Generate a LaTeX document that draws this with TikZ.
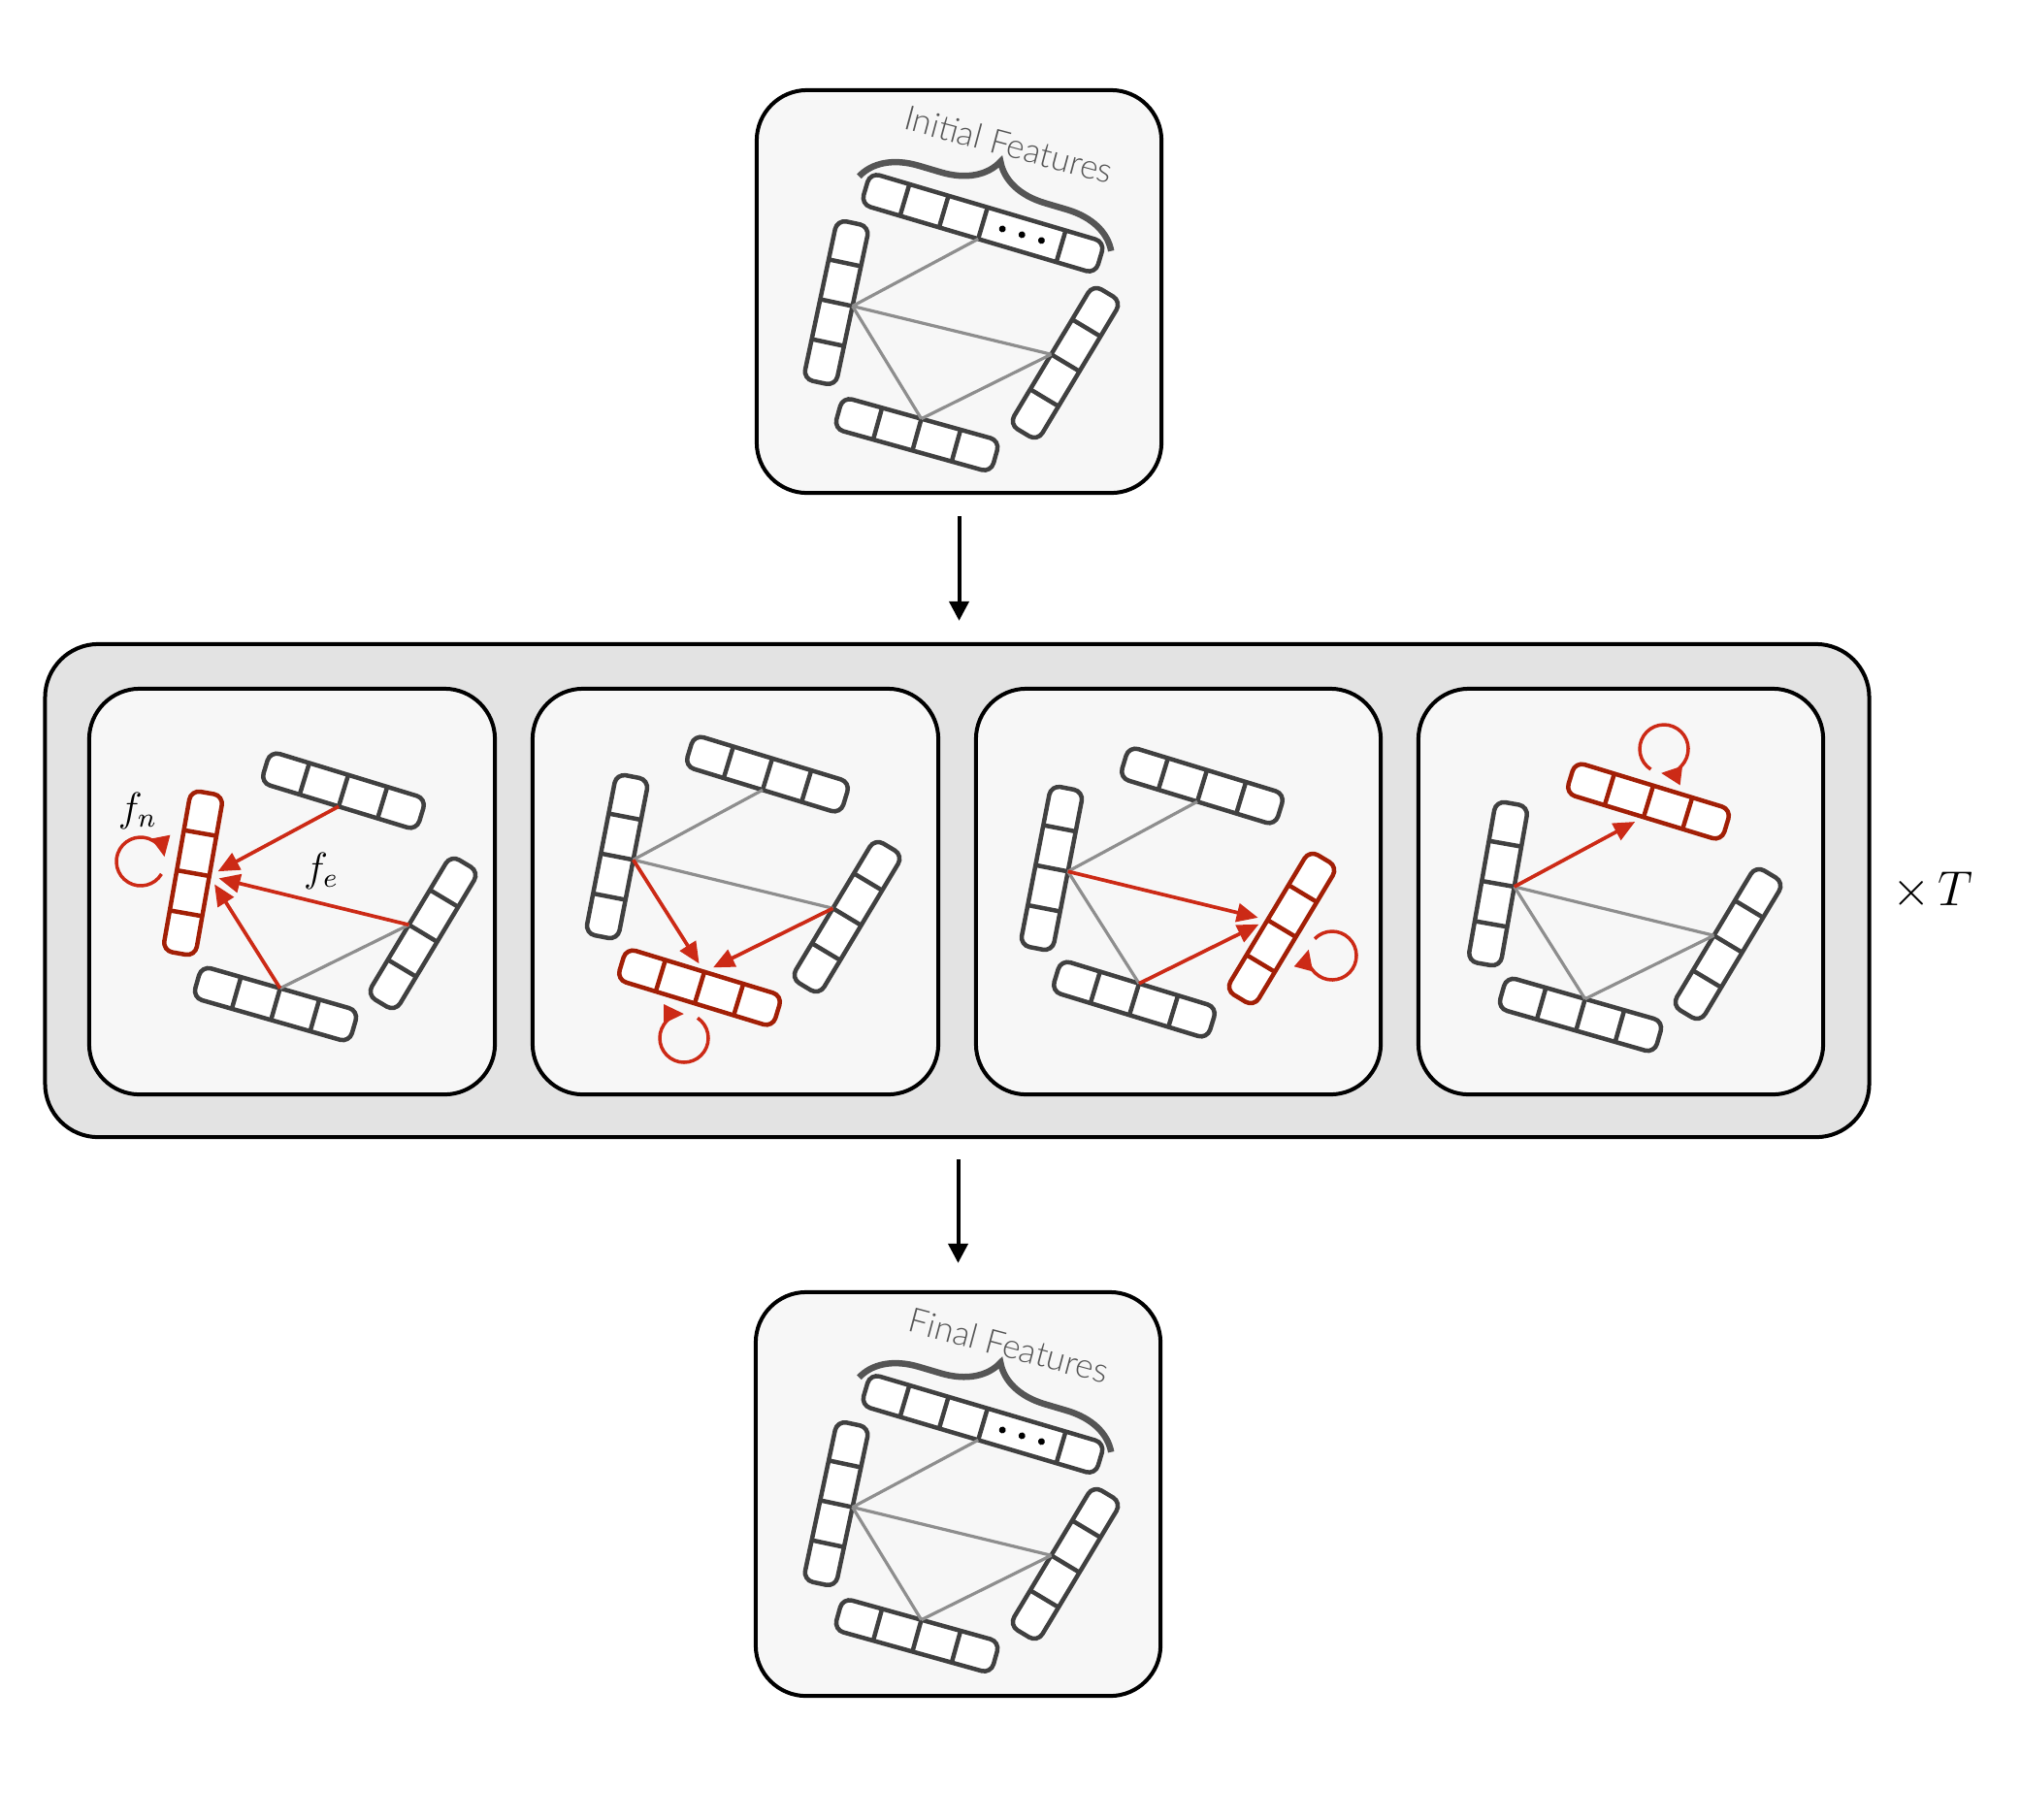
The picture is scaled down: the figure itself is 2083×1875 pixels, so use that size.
\documentclass[tikz,border=0pt]{standalone}
\usepackage{fontspec}
\newfontfamily\labelfont{Lato}[UprightFont={* Light}]
\usetikzlibrary{arrows.meta,decorations.pathreplacing}
\definecolor{barc}{HTML}{404040}
\definecolor{edgec}{HTML}{8E8E8E}
\definecolor{redA}{HTML}{CC2A16}
\definecolor{redB}{HTML}{A21F06}
\definecolor{boxfill}{HTML}{F7F7F7}
\definecolor{bigfill}{HTML}{E3E3E3}
\definecolor{txtc}{HTML}{555555}
\tikzset{
  pics/featbar/.style={code={
    \draw[line width=0.045cm, draw=#1, fill=white, rounded corners=0.1cm] (-84,-17) rectangle (84,17);
    \foreach \uu in {-42,0,42} {\draw[line width=0.045cm, draw=#1] (\uu,-17) -- (\uu,17);}
    \coordinate (-a) at (0,-17);
    \coordinate (-b) at (0,17);
  }},
  pics/longbar/.style={code={
    \draw[line width=0.045cm, draw=#1, fill=white, rounded corners=0.1cm] (-126,-17) rectangle (126,17);
    \foreach \uu in {-84,-42,0,84} {\draw[line width=0.045cm, draw=#1] (\uu,-17) -- (\uu,17);}
    \foreach \uu in {21,42,63} {\fill[black] (\uu,0) circle[radius=0.035cm];}
    \coordinate (-a) at (0,-17);
    \coordinate (-b) at (0,17);
    \draw[line width=0.065cm, draw=txtc, decorate, decoration={brace, amplitude=0.56cm}] (-136,-10) -- (135,-10);
  }},
  panelbox/.style={draw=black, line width=0.04cm, fill=boxfill, rounded corners=0.52cm, inner sep=0pt, outer sep=0pt},
  gedge/.style={draw=edgec, line width=0.032cm},
  redarrow/.style={draw=redA, line width=0.037cm, -{Triangle[length=0.22cm,width=0.19cm]}, shorten >=0.1cm},
  loopc/.style={draw=redA, line width=0.035cm, -{Triangle[length=0.21cm,width=0.19cm]}},
  flowarrow/.style={draw=black, line width=0.04cm, -{Triangle[length=0.2cm,width=0.2cm]}},
  mathlbl/.style={inner sep=0pt, font=\fontsize{11.5}{14}\selectfont},
  featlbl/.style={inner sep=0pt, font=\labelfont\fontsize{10}{12}\selectfont, text=txtc},
}
\newcommand\featgraph[3]{%
  \pic[rotate=-16.5] (#1T) at (1013,{230+#2}) {longbar=barc};
  \pic[rotate=78] (#1L) at (862,{312+#2}) {featbar=barc};
  \pic[rotate=59] (#1R) at (1098,{374+#2}) {featbar=barc};
  \pic[rotate=-15.6] (#1B) at (945,{448+#2}) {featbar=barc};
  \draw[gedge] (#1T-b) -- (#1L-b);
  \draw[gedge] (#1L-b) -- (#1R-a);
  \draw[gedge] (#1L-b) -- (#1B-a);
  \draw[gedge] (#1B-a) -- (#1R-a);
  \node[featlbl, rotate=-15] (#1lbl) at (1040,{149+#2}) {#3};
}
\begin{document}
\begin{tikzpicture}[x=0.01cm, y=-0.01cm]
\useasboundingbox (0,0) rectangle (2083,1875);
% boxes
\node[panelbox, minimum width=4.17cm, minimum height=4.15cm] (topbox) at (988.5,300.5) {};
\node[panelbox, fill=bigfill, rounded corners=0.55cm, minimum width=18.79cm, minimum height=5.08cm] (bigbox) at (986.5,918) {};
\node[panelbox, minimum width=4.18cm, minimum height=4.18cm] (panA) at (301,919) {};
\node[panelbox, minimum width=4.18cm, minimum height=4.18cm] (panB) at (758,919) {};
\node[panelbox, minimum width=4.17cm, minimum height=4.18cm] (panC) at (1214.5,919) {};
\node[panelbox, minimum width=4.17cm, minimum height=4.18cm] (panD) at (1670.5,919) {};
\node[panelbox, minimum width=4.17cm, minimum height=4.16cm] (botbox) at (987.5,1540) {};
% flow arrows
\draw[flowarrow, shorten <=0.24cm, shorten >=0.24cm] (topbox.south) -- (topbox.south |- bigbox.north);
\draw[flowarrow, shorten <=0.23cm, shorten >=0.30cm] (bigbox.south -| botbox.north) -- (botbox.north);
\node[inner sep=0pt, font=\fontsize{15.4}{18}\selectfont] (times) at (1992,918) {$\times\,T$};
% top and bottom graphs
\featgraph{gi}{0}{Initial Features}
\featgraph{gf}{1238}{Final Features}
% panel 1
\pic[rotate=80] (pAL) at (199,900) {featbar=redB};
\pic[rotate=-17] (pAT) at (354,815) {featbar=barc};
\pic[rotate=59] (pAR) at (436,962) {featbar=barc};
\pic[rotate=-16] (pAB) at (284,1035) {featbar=barc};
\draw[gedge] (pAB-a) -- (pAR-a);
\draw[redarrow] (pAT-b) -- (pAL-b);
\draw[redarrow] (pAR-a) -- (pAL-b);
\draw[redarrow] (pAB-a) -- (pAL-b);
\coordinate (pAloop) at (145,888);
\draw[loopc] (pAloop) ++(31:25) arc[start angle=31, end angle=349, radius=25];
\node[mathlbl] (fn) at (142,836) {$f_n$};
\node[mathlbl] (fe) at (331,898) {$f_e$};
% panel 2
\pic[rotate=79] (pBL) at (636,883) {featbar=barc};
\pic[rotate=-17] (pBT) at (791,798) {featbar=barc};
\pic[rotate=59] (pBR) at (873,945) {featbar=barc};
\pic[rotate=-17] (pBB) at (721,1018) {featbar=redB};
\draw[gedge] (pBT-b) -- (pBL-b);
\draw[gedge] (pBL-b) -- (pBR-a);
\draw[redarrow] (pBL-b) -- (pBB-a);
\draw[redarrow] (pBR-a) -- (pBB-a);
\coordinate (pBloop) at (705,1070);
\draw[loopc] (pBloop) ++(-56:25) arc[start angle=-56, end angle=270, radius=25];
% panel 3
\pic[rotate=79] (pCL) at (1084,895) {featbar=barc};
\pic[rotate=-17] (pCT) at (1239,810) {featbar=barc};
\pic[rotate=59] (pCR) at (1321,957) {featbar=redB};
\pic[rotate=-17] (pCB) at (1169,1030) {featbar=barc};
\draw[gedge] (pCT-b) -- (pCL-b);
\draw[gedge] (pCL-b) -- (pCB-a);
\draw[redarrow] (pCL-b) -- (pCR-a);
\draw[redarrow] (pCB-a) -- (pCR-a);
\coordinate (pCloop) at (1373,985);
\draw[loopc] (pCloop) ++(-136:25) arc[start angle=-136, end angle=195, radius=25];
% panel 4
\pic[rotate=80] (pDL) at (1544,911) {featbar=barc};
\pic[rotate=-17] (pDT) at (1699,826) {featbar=redB};
\pic[rotate=59] (pDR) at (1781,973) {featbar=barc};
\pic[rotate=-16] (pDB) at (1629,1046) {featbar=barc};
\draw[gedge] (pDL-b) -- (pDR-a);
\draw[gedge] (pDL-b) -- (pDB-a);
\draw[gedge] (pDB-a) -- (pDR-a);
\draw[redarrow] (pDL-b) -- (pDT-b);
\coordinate (pDloop) at (1715,772);
\draw[loopc] (pDloop) ++(123:25) arc[start angle=123, end angle=457, radius=25];
\end{tikzpicture}
\end{document}
